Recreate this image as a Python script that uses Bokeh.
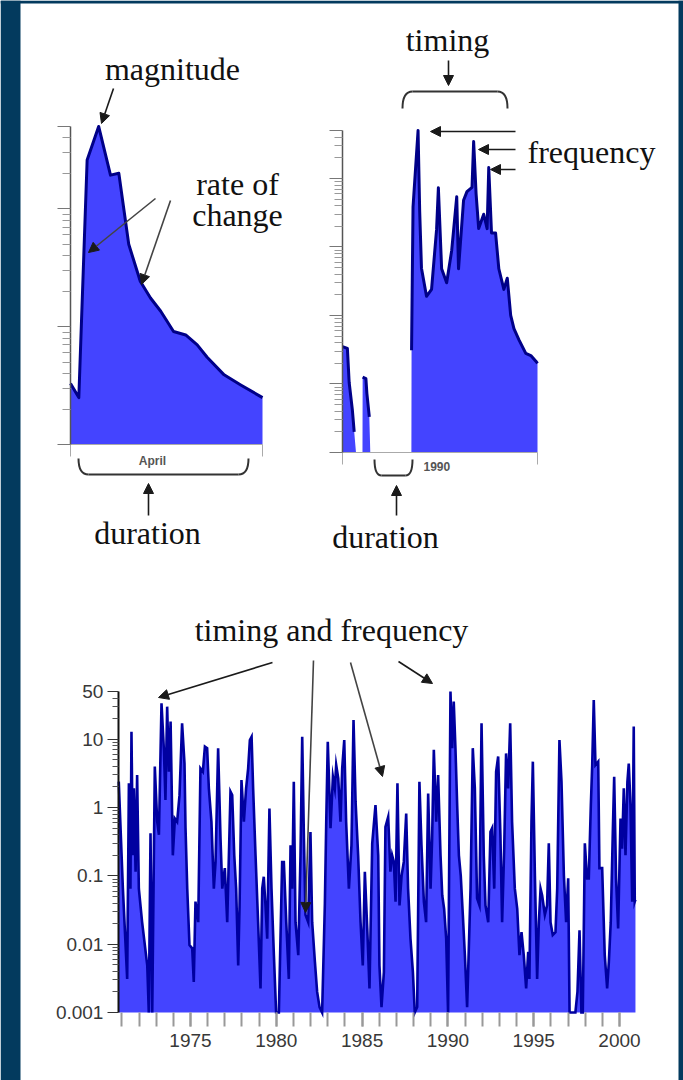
import math
from bokeh.plotting import figure
from bokeh.models import (Range1d, LogScale, LinearAxis, LogAxis, FixedTicker,
                          CustomJSTickFormatter, Arrow, NormalHead)
from bokeh.core.properties import value
from bokeh.embed import file_html
from bokeh.resources import INLINE

# ---------------- data ----------------
# Top-left: an April storm hydrograph (day of month, flow)
april_day = [0, 1.3, 2.6, 4.4, 6.25, 7.55, 9.1, 10.9, 12.5, 14.1, 16.1, 18.0,
             19.8, 21.35, 24.0, 26.6, 30.0]
april_flow = [33, 25, 2600, 5000, 1930, 2000, 500, 243, 175, 135, 91, 85,
              70, 55, 39, 32, 25]
april_floor = 10
april_ticks = [10, 100, 1000, 5000]
april_minor = [20, 30, 40, 50, 60, 70, 80, 90, 200, 300, 400, 500, 600, 700,
               800, 900, 2000, 3000, 4000]

# Top-right: year 1990 (month, flow)
y1990_month = [0.0, 0.30, 0.41, 0.61, 0.72, 0.83, 1.23, 1.24, 1.44, 1.50, 1.65, 1.71,
               4.24, 4.25, 4.34, 4.65, 4.75, 4.86, 5.17, 5.48, 5.79, 5.90, 6.10, 6.41,
               6.72, 7.03, 7.14, 7.45, 7.66, 7.97, 8.07, 8.22, 8.38, 8.69, 8.90, 9.00,
               9.17, 9.42, 9.62, 9.93, 10.14, 10.35, 10.55, 10.86, 11.28, 11.59, 11.90, 12.0]
y1990_flow = [0.035, 0.033, 0.0105, 0.0041, 0.002, 0.001, 0.001, 0.0126, 0.012, 0.0073, 0.0033, 0.001,
              0.001, 0.031, 3.8, 50, 3.3, 0.49, 0.19, 0.24, 1.8, 7.3, 0.48, 0.30,
              0.89, 5.4, 0.48, 4.8, 6.4, 7.4, 34.5, 6.0, 1.85, 3.0, 1.85, 14.4,
              1.6, 1.6, 0.48, 0.24, 0.35, 0.10, 0.064, 0.044, 0.028, 0.026, 0.0215, 0.020]

# Bottom: 1970-2000 record (decimal year, flow)
ts_year = [1970.82, 1971.06, 1971.31, 1971.41, 1971.50, 1971.56, 1971.64, 1971.70, 1971.80, 1971.89,
           1971.99, 1972.18, 1972.48, 1972.57, 1972.67, 1972.77, 1972.92, 1973.06, 1973.16, 1973.31,
           1973.45, 1973.54, 1973.64, 1973.74, 1973.84, 1973.97, 1974.09, 1974.22, 1974.36, 1974.51,
           1974.65, 1974.71, 1974.81, 1974.94, 1975.10, 1975.19, 1975.29, 1975.45, 1975.58, 1975.72,
           1975.84, 1975.97, 1976.07, 1976.22, 1976.36, 1976.46, 1976.61, 1976.75, 1976.85, 1977.00,
           1977.14, 1977.33, 1977.43, 1977.55, 1977.66, 1977.78, 1977.86, 1977.97, 1978.11, 1978.24,
           1978.36, 1978.46, 1978.56, 1978.65, 1978.79, 1978.94, 1979.08, 1979.18, 1979.27, 1979.37,
           1979.47, 1979.60, 1979.72, 1979.86, 1979.99, 1980.15, 1980.34, 1980.44, 1980.58, 1980.73,
           1980.83, 1980.93, 1981.02, 1981.12, 1981.28, 1981.41, 1981.51, 1981.61, 1981.70, 1981.86,
           1981.99, 1982.09, 1982.25, 1982.38, 1982.52, 1982.67, 1982.83, 1982.91, 1983.00, 1983.16,
           1983.30, 1983.41, 1983.49, 1983.61, 1983.74, 1983.84, 1983.96, 1984.07, 1984.23, 1984.38,
           1984.50, 1984.62, 1984.77, 1984.91, 1985.04, 1985.16, 1985.30, 1985.43, 1985.59, 1985.78,
           1985.94, 1986.01, 1986.13, 1986.27, 1986.36, 1986.52, 1986.65, 1986.75, 1986.85, 1986.95,
           1987.06, 1987.18, 1987.30, 1987.43, 1987.57, 1987.68, 1987.82, 1987.96, 1988.07, 1988.21,
           1988.34, 1988.46, 1988.60, 1988.73, 1988.85, 1988.99, 1989.08, 1989.18, 1989.32, 1989.43,
           1989.57, 1989.67, 1989.78, 1989.90, 1990.01, 1990.15, 1990.25, 1990.34, 1990.44, 1990.54,
           1990.64, 1990.75, 1990.87, 1990.99, 1991.12, 1991.32, 1991.45, 1991.57, 1991.70, 1991.84,
           1991.96, 1992.09, 1992.19, 1992.35, 1992.48, 1992.58, 1992.70, 1992.81, 1992.93, 1993.06,
           1993.16, 1993.28, 1993.39, 1993.51, 1993.63, 1993.74, 1993.90, 1994.04, 1994.17, 1994.29,
           1994.42, 1994.56, 1994.68, 1994.75, 1994.87, 1994.95, 1995.07, 1995.20, 1995.30, 1995.40,
           1995.49, 1995.65, 1995.78, 1995.88, 1995.98, 1996.11, 1996.27, 1996.37, 1996.50, 1996.62,
           1996.76, 1996.89, 1997.01, 1997.09, 1997.43, 1997.55, 1997.67, 1997.78, 1997.86, 1997.98,
           1998.11, 1998.21, 1998.33, 1998.41, 1998.50, 1998.60, 1998.76, 1998.83, 1998.99, 1999.14,
           1999.28, 1999.38, 1999.49, 1999.61, 1999.69, 1999.80, 1999.92, 2000.06, 2000.15, 2000.25,
           2000.35, 2000.46, 2000.54, 2000.64, 2000.74, 2000.83, 2000.89, 2000.93]
ts_flow = [2.4, 0.065, 0.0031, 2.26, 0.065, 12.9, 0.20, 1.91, 0.115, 3.0,
           0.065, 0.021, 0.0049, 0.001, 0.42, 0.001, 4.0, 0.62, 0.40, 33.6,
           7.0, 1.29, 30.0, 3.35, 18.1, 0.20, 0.69, 0.62, 1.52, 17.1,
           4.4, 0.50, 0.065, 0.0097, 0.0087, 0.0028, 0.042, 0.021, 3.75, 3.35,
           7.8, 7.4, 1.91, 0.62, 0.065, 0.16, 7.4, 0.35, 0.065, 0.13,
           0.021, 1.71, 1.52, 0.20, 0.065, 0.0049, 0.037, 2.53, 0.62, 1.91,
           3.75, 9.75, 10.9, 1.91, 0.20, 0.021, 0.00225, 0.065, 0.097, 0.037,
           0.012, 0.97, 0.065, 0.0069, 0.001, 0.001, 0.16, 0.16, 0.021, 0.0031,
           0.28, 0.065, 2.39, 0.021, 0.0069, 0.20, 10.9, 0.35, 0.027, 0.021,
           0.44, 0.021, 0.0055, 0.0020, 0.0012, 0.001, 0.039, 0.62, 9.2, 0.50,
           2.83, 1.91, 4.2, 2.68, 0.62, 3.75, 9.75, 0.62, 0.065, 0.28,
           19.1, 1.22, 0.20, 0.021, 0.0049, 0.115, 0.017, 0.00225, 0.30, 1.09,
           0.20, 0.0049, 0.0012, 0.0039, 0.52, 0.73, 0.115, 0.20, 0.16, 0.042,
           2.26, 0.037, 0.10, 0.16, 0.82, 0.065, 0.012, 0.0039, 0.001, 0.0012,
           2.39, 0.28, 0.042, 0.021, 1.61, 0.065, 0.35, 7.0, 0.62, 3.0,
           0.20, 0.052, 0.033, 0.012, 0.001, 50, 7.4, 35.6, 7.4, 1.09,
           0.20, 0.10, 0.027, 0.0069, 0.0012, 0.065, 7.4, 1.91, 0.047, 0.037,
           17.1, 0.20, 0.037, 0.021, 0.44, 0.50, 0.065, 3.35, 5.6, 0.40,
           0.021, 0.25, 6.2, 1.91, 17.1, 0.62, 0.065, 0.033, 0.0069, 0.015,
           0.0069, 0.00225, 0.0077, 0.0031, 0.62, 4.7, 0.10, 0.0031, 0.021, 0.065,
           0.052, 0.027, 0.037, 0.30, 0.021, 0.0136, 0.015, 0.065, 9.75, 2.39,
           0.10, 0.021, 0.092, 0.001, 0.001, 0.0020, 0.016, 0.001, 0.001, 0.30,
           0.092, 0.092, 1.09, 4.2, 37.6, 4.2, 4.7, 0.13, 0.13, 0.0069,
           0.00225, 0.0055, 0.021, 0.44, 2.83, 0.092, 0.017, 0.69, 0.25, 1.91,
           0.20, 2.39, 4.4, 1.09, 0.042, 15.3, 0.042, 0.045]
flow_floor = 0.001

log_tick_values = [0.001, 0.01, 0.1, 1, 10, 50]
log_tick_labels = ["0.001", "0.01", "0.1", "1", "10", "50"]
log_minor = [m * 10.0 ** e for e in range(-3, 2) for m in range(2, 10) if m * 10.0 ** e < 50]
year_ticks = [1975, 1980, 1985, 1990, 1995, 2000]
year_minor = list(range(1971, 2001))
month_ticks = [0, 12]
day_ticks = [0, 30]

# ---------------- styling ----------------
FILL = "#4444ff"
DARK = "#0000a0"
NAVY = "#000088"
INK = "#1a1a1a"
BORDER = "#033a5e"
SERIF = value("Liberation Serif")
SANS = value("Liberation Sans")

W, H = 683, 1080
X0, Y0 = 0, 0
X1, Y1 = X0 + W, Y0 + H


def lin_span(d0, d1, p0, p1, q0, q1):
    k = (d1 - d0) / (p1 - p0)
    return d0 + (q0 - p0) * k, d0 + (q1 - p0) * k


def log_span(d0, d1, p0, p1, q0, q1):
    a, b = lin_span(math.log10(d0), math.log10(d1), p0, p1, q0, q1)
    return 10 ** a, 10 ** b


p = figure(width=W, height=H, x_range=Range1d(X0, X1), y_range=Range1d(Y1, Y0),
           x_axis_type=None, y_axis_type=None, toolbar_location=None,
           output_backend="svg", min_border=0, outline_line_color=None)
p.background_fill_color = "white"
p.border_fill_color = "white"

p.extra_x_ranges = {
    "tl_x": Range1d(*lin_span(0, 30, 70, 262, X0, X1)),
    "tr_x": Range1d(*lin_span(0, 12, 342, 537, X0, X1)),
    "b_x": Range1d(*lin_span(1975, 2000, 190, 619, X0, X1)),
}
p.extra_y_ranges = {
    "tl_y": Range1d(*log_span(10, 1000, 444, 208.3, Y1, Y0)),
    "tr_y": Range1d(*log_span(0.001, 50, 452, 130, Y1, Y0)),
    "b_y": Range1d(*log_span(0.001, 50, 1012, 691, Y1, Y0)),
}
p.extra_y_scales = {"tl_y": LogScale(), "tr_y": LogScale(), "b_y": LogScale()}

# navy frame around the white panel
p.quad(left=[X0, X0, 678], right=[20, X1, X1], bottom=[Y1, 3, Y1], top=[Y0, Y0, Y0],
       fill_color=BORDER, line_color=None)

# ---------------- axes ----------------
hide = CustomJSTickFormatter(code="return ''")


def add_axis(kind, side, xr, yr, loc, bounds, ticks, minor, **kw):
    ax = kind(x_range_name=xr, y_range_name=yr, fixed_location=loc, bounds=bounds,
              ticker=FixedTicker(ticks=ticks, minor_ticks=minor), **kw)
    p.add_layout(ax, side)
    return ax


small_axis = dict(axis_line_color="#555555", axis_line_width=1.5,
                  major_tick_line_color="#777777", minor_tick_line_color="#999999",
                  major_tick_out=13, major_tick_in=0, minor_tick_out=8, minor_tick_in=0,
                  formatter=hide, major_label_text_font_size="1px")
add_axis(LogAxis, "left", "tl_x", "tl_y", 0, (april_floor, 5000), april_ticks, april_minor, **small_axis)
add_axis(LogAxis, "left", "tr_x", "tr_y", 0, (0.001, 50), log_tick_values, log_minor, **small_axis)

base_axis = dict(axis_line_color="#aaaaaa", axis_line_width=1,
                 major_tick_line_color="#aaaaaa", major_tick_out=12, major_tick_in=0,
                 minor_tick_out=0, minor_tick_in=0,
                 formatter=hide, major_label_text_font_size="1px")
add_axis(LinearAxis, "below", "tl_x", "tl_y", april_floor, (0, 30), day_ticks, [], **base_axis)
add_axis(LinearAxis, "below", "tr_x", "tr_y", 0.001, (0, 12), month_ticks, [], **base_axis)

# ---------------- top-left chart ----------------
p.varea(x=april_day, y1=april_floor, y2=april_flow, x_range_name="tl_x", y_range_name="tl_y",
        fill_color=FILL)
p.line(april_day, april_flow, x_range_name="tl_x", y_range_name="tl_y",
       line_color=NAVY, line_width=3, line_join="round")

# ---------------- top-right chart ----------------
p.varea(x=y1990_month, y1=flow_floor, y2=y1990_flow, x_range_name="tr_x", y_range_name="tr_y",
        fill_color=FILL)
line_1990 = [v if v > flow_floor else float("nan") for v in y1990_flow]
p.line(y1990_month, line_1990, x_range_name="tr_x", y_range_name="tr_y",
       line_color=NAVY, line_width=3, line_join="round")

# ---------------- bottom chart ----------------
p.varea(x=ts_year, y1=flow_floor, y2=ts_flow, x_range_name="b_x", y_range_name="b_y",
        fill_color=FILL)
p.line(ts_year, ts_flow, x_range_name="b_x", y_range_name="b_y",
       line_color=DARK, line_width=2.6, line_join="miter")

lab_fmt = CustomJSTickFormatter(args=dict(vals=log_tick_values, labs=log_tick_labels), code="""
let best = 0;
for (let i = 0; i < vals.length; i++) {
  if (Math.abs(Math.log10(vals[i]) - Math.log10(tick)) <
      Math.abs(Math.log10(vals[best]) - Math.log10(tick))) best = i;
}
return labs[best];
""")
add_axis(LogAxis, "left", "b_x", "b_y", ts_year[0] - 0.02, (0.001, 50), log_tick_values, log_minor,
         axis_line_color="#111111", axis_line_width=2,
         major_tick_line_color="#333333", minor_tick_line_color="#555555",
         major_tick_out=11, major_tick_in=0, minor_tick_out=6, minor_tick_in=0,
         formatter=lab_fmt, major_label_standoff=4,
         major_label_text_font="Liberation Sans", major_label_text_font_size="19px",
         major_label_text_color="#383838")
add_axis(LinearAxis, "below", "b_x", "b_y", 0.001, (1970.8, 2001), year_ticks, year_minor,
         axis_line_color=None,
         major_tick_line_color="#999999", minor_tick_line_color="#999999",
         major_tick_line_width=2, minor_tick_line_width=2,
         major_tick_out=14, major_tick_in=0, minor_tick_out=14, minor_tick_in=0,
         major_label_standoff=7, major_label_text_font="Liberation Sans",
         major_label_text_font_size="19px", major_label_text_color="#383838")

# ---------------- axis captions ----------------
p.text(x=[152], y=[460], text=["April"], text_font=SANS, text_font_size="12px",
       text_font_style="bold", text_color="#555555", text_align="center", text_baseline="middle")
p.text(x=[423], y=[466], text=["1990"], text_font=SANS, text_font_size="12px",
       text_font_style="bold", text_color="#555555", text_align="left", text_baseline="middle")

# ---------------- annotations ----------------
p.text(x=[172, 237, 237, 447, 147, 385, 331],
       y=[68, 183, 214, 39, 532, 536, 629],
       text=["magnitude", "rate of", "change", "timing", "duration", "duration",
             "timing and frequency"],
       text_font=SERIF, text_font_size="32px", text_color="#111111",
       text_align="center", text_baseline="alphabetic")
p.text(x=[527], y=[151], text=["frequency"], text_font=SERIF, text_font_size="32px",
       text_color="#111111", text_align="left", text_baseline="alphabetic")


def arrow(x0, y0, x1, y1, color=INK):
    p.add_layout(Arrow(x_start=x0, y_start=y0, x_end=x1, y_end=y1,
                       line_color=color, line_width=1.6,
                       end=NormalHead(size=10, fill_color=INK, line_color=INK)))


arrow(113, 88, 101, 123)
arrow(155, 198, 88, 252, "#444444")
arrow(170, 200, 141, 284, "#444444")
arrow(448, 60, 448, 85)
arrow(515, 131, 430, 131)
arrow(515, 149, 478, 149)
arrow(515, 169, 490, 169)
arrow(148, 515, 148, 483)
arrow(396, 515, 396, 485)
arrow(272, 662, 158, 697)
arrow(313, 660, 305, 912, "#444444")
arrow(350, 662, 382, 776, "#444444")
arrow(398, 661, 432, 683)


def bracket(xl, xr, y_end, y_bar, r):
    p.quadratic(x0=[xl, xr], y0=[y_end, y_end], x1=[xl + r, xr - r], y1=[y_bar, y_bar],
                cx=[xl, xr], cy=[y_bar, y_bar], line_color="#333333", line_width=2)
    p.segment(x0=[xl + r], y0=[y_bar], x1=[xr - r], y1=[y_bar],
              line_color="#333333", line_width=2)


bracket(78, 248, 458, 474, 10)
bracket(374, 412, 459, 475, 7)
bracket(402, 507, 108, 91, 10)

open("out.html", "w").write(file_html(p, INLINE))
